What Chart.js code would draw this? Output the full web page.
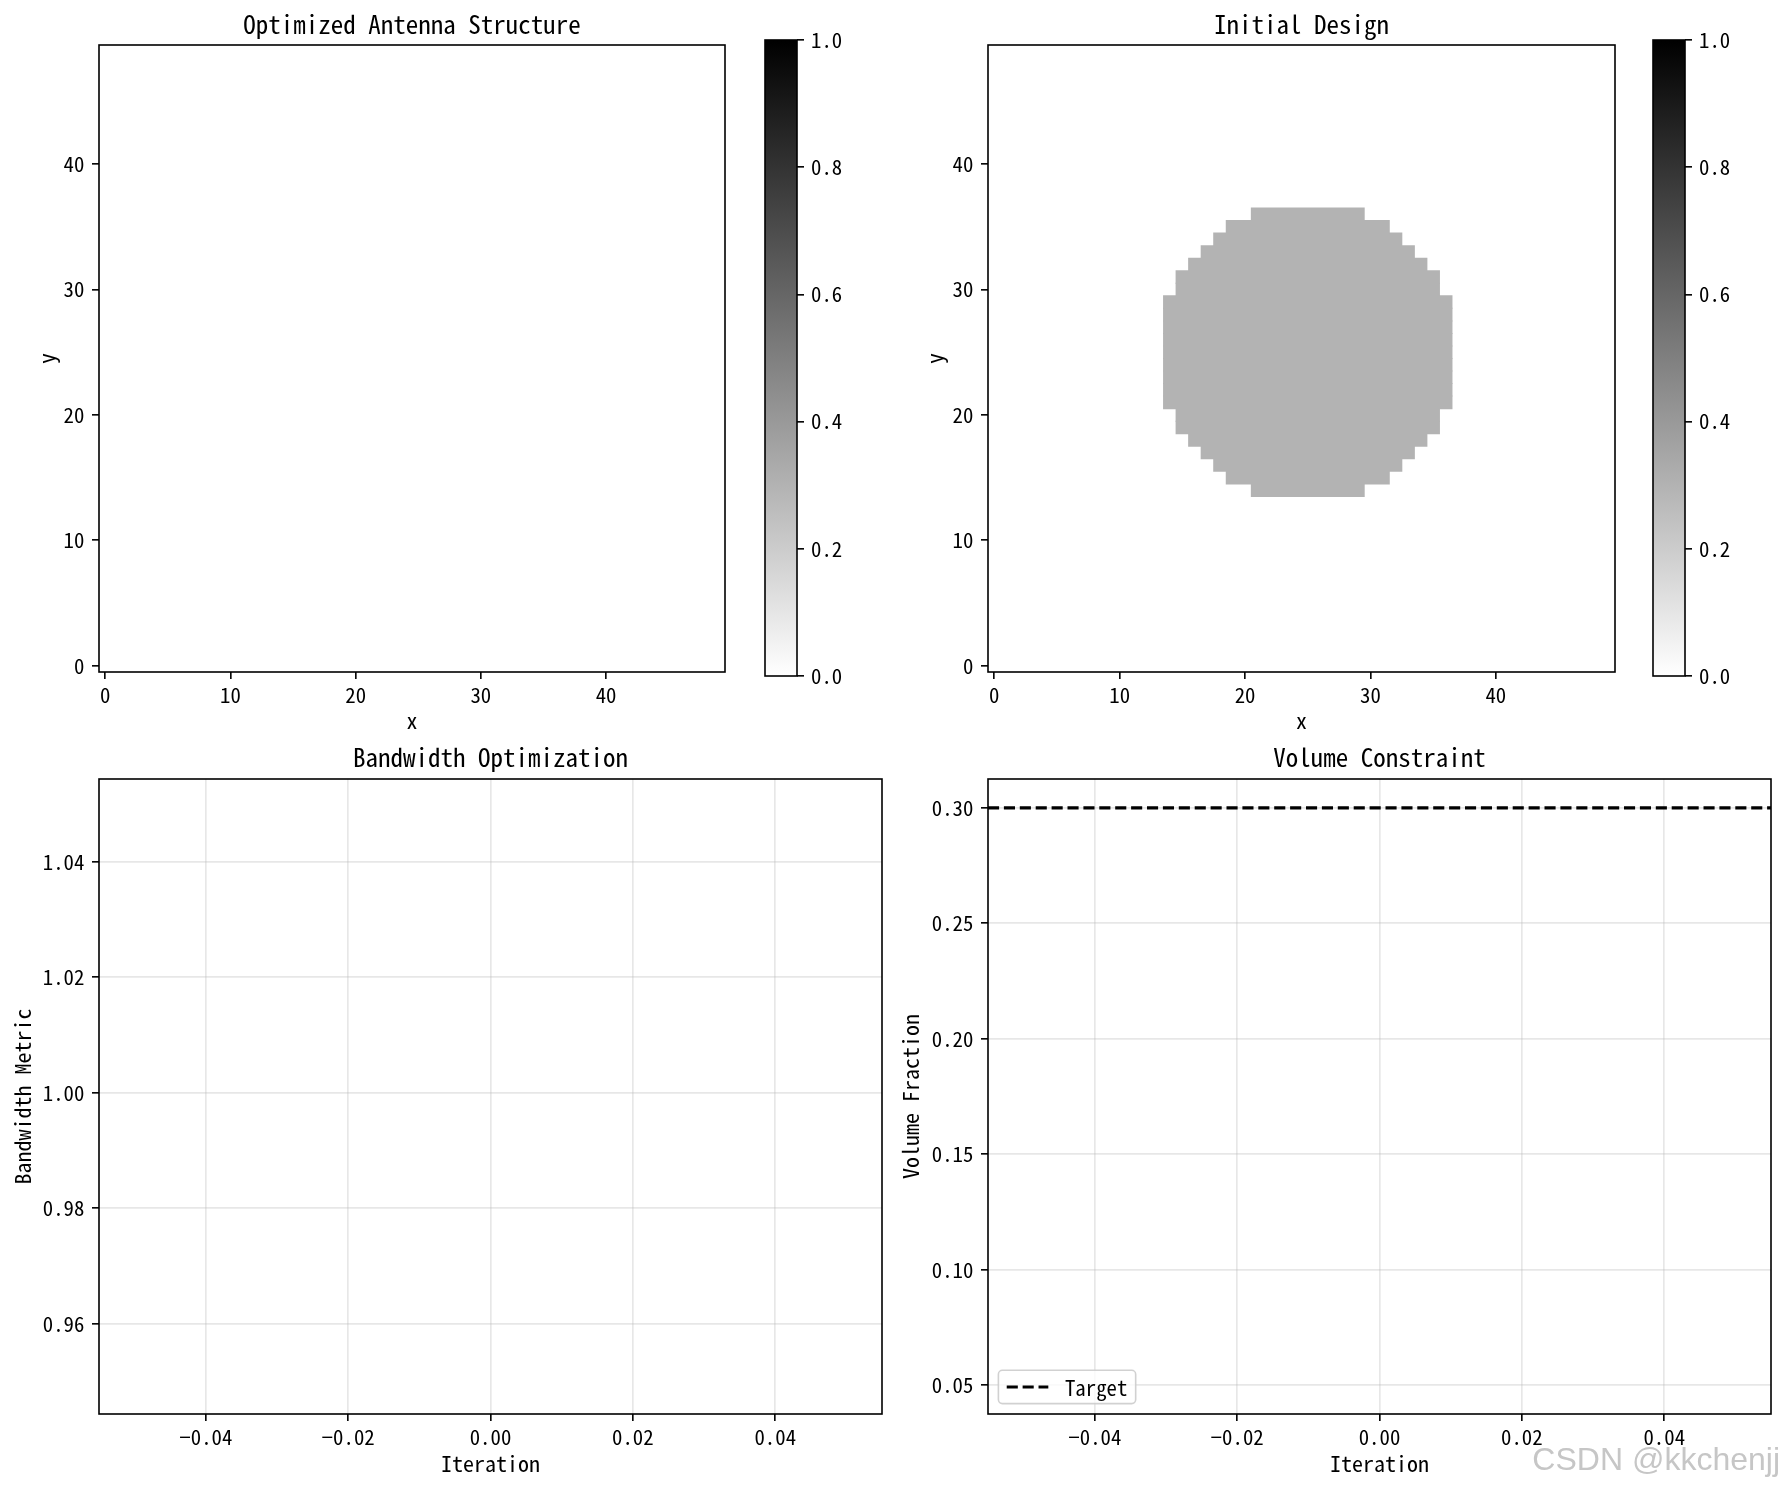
<!DOCTYPE html>
<html>
<head>
<meta charset="utf-8">
<script src="https://cdn.jsdelivr.net/npm/chart.js@4.4.1/dist/chart.umd.min.js"></script>
<style>
  html, body { margin: 0; padding: 0; background: #ffffff; }
  #wrap { position: relative; width: 1786px; height: 1490px; overflow: hidden; background: #ffffff; }
  #wrap canvas { position: absolute; left: 0; top: 0; }
  #wm { position: absolute; right: 6px; top: 1443px; font-family: "Liberation Sans", Arial, sans-serif;
        font-size: 32px; line-height: 32px; color: #c6c6c6; white-space: nowrap; }
</style>
</head>
<body>
<div id="wrap">
  <canvas id="cOpt" width="1786" height="1490"></canvas>
  <canvas id="cbOpt" width="1786" height="1490"></canvas>
  <canvas id="cInit" width="1786" height="1490"></canvas>
  <canvas id="cbInit" width="1786" height="1490"></canvas>
  <canvas id="cBand" width="1786" height="1490"></canvas>
  <canvas id="cVol" width="1786" height="1490"></canvas>
  <div id="wm">CSDN @kkchenjj</div>
</div>
<script>
// ---------------- data ----------------
const heatRange = [-0.5, 49.5];
const heatTicks = [0, 10, 20, 30, 40];
const heatTickLabels = ['0', '10', '20', '30', '40'];

// cells with non-zero density, as row spans: [row, firstColumn, lastColumn]
const optimizedSpans = [];
const optimizedDensity = 0;
const initialSpans = [
  [14, 21, 29], [15, 19, 31], [16, 18, 32], [17, 17, 33], [18, 16, 34],
  [19, 15, 35], [20, 15, 35], [21, 14, 36], [22, 14, 36], [23, 14, 36],
  [24, 14, 36], [25, 14, 36], [26, 14, 36], [27, 14, 36], [28, 14, 36],
  [29, 14, 36], [30, 15, 35], [31, 15, 35], [32, 16, 34], [33, 17, 33],
  [34, 18, 32], [35, 19, 31], [36, 21, 29]
];
const initialDensity = 0.3;

const colorbarRange = [0, 1];
const colorbarTicks = [0, 0.2, 0.4, 0.6, 0.8, 1.0];
const colorbarTickLabels = ['0.0', '0.2', '0.4', '0.6', '0.8', '1.0'];

const iterations = [0];
const bandwidth = [0.9993];
const volume = [0.05];
const targetVolume = 0.3;

const iterRange = [-0.055, 0.055];
const iterTicks = [-0.04, -0.02, 0, 0.02, 0.04];
const iterTickLabels = ['\u22120.04', '\u22120.02', '0.00', '0.02', '0.04'];
const bandwidthRange = [0.9444, 1.0543];
const bandwidthTicks = [0.96, 0.98, 1.00, 1.02, 1.04];
const bandwidthTickLabels = ['0.96', '0.98', '1.00', '1.02', '1.04'];
const volumeRange = [0.0375, 0.3125];
const volumeTicks = [0.05, 0.10, 0.15, 0.20, 0.25, 0.30];
const volumeTickLabels = ['0.05', '0.10', '0.15', '0.20', '0.25', '0.30'];

// ---------------- style ----------------
const FAMILY = "'Noto Sans Mono CJK SC', 'Noto Sans CJK SC', 'DejaVu Sans', sans-serif";
const W = 1786, H = 1490;
const TICK_FS = 20.8, LABEL_FS = 22, TITLE_FS = 25;
Chart.defaults.font.family = FAMILY;
Chart.defaults.color = '#000';

function grayR(v) {
  const g = Math.round(255 * (1 - v));
  return 'rgb(' + g + ',' + g + ',' + g + ')';
}

const framePlugin = {
  id: 'frame',
  afterDraw(chart) {
    const a = chart.chartArea, c = chart.ctx;
    c.save();
    c.strokeStyle = '#000';
    c.lineWidth = 1.6;
    c.strokeRect(a.left, a.top, a.right - a.left, a.bottom - a.top);
    c.restore();
  }
};

const cornerLegend = {
  id: 'cornerLegend',
  afterDraw(chart) {
    const o = chart.options.plugins.cornerLegend;
    if (!o || !o.display) return;
    const items = chart.data.datasets.filter(d => d.showInLegend);
    if (!items.length) return;
    const c = chart.ctx, a = chart.chartArea, fs = TICK_FS;
    c.save();
    c.font = fs + 'px ' + FAMILY;
    const textW = Math.max.apply(null, items.map(d => c.measureText(d.label).width));
    const pad = 0.4 * fs, handle = 2 * fs, gap = 0.8 * fs, rowH = 1.6 * fs;
    const boxW = pad + handle + gap + textW + pad;
    const boxH = rowH * items.length;
    const x0 = a.left + 0.5 * fs, y0 = a.bottom - 0.5 * fs - boxH;
    c.beginPath();
    if (c.roundRect) c.roundRect(x0, y0, boxW, boxH, 4); else c.rect(x0, y0, boxW, boxH);
    c.fillStyle = 'rgba(255,255,255,0.8)';
    c.fill();
    c.strokeStyle = 'rgba(204,204,204,0.9)';
    c.lineWidth = 1.6;
    c.stroke();
    items.forEach((d, i) => {
      const yc = y0 + rowH * (i + 0.5);
      c.beginPath();
      c.setLineDash(d.borderDash || []);
      c.lineWidth = d.borderWidth;
      c.strokeStyle = d.borderColor;
      c.moveTo(x0 + pad, yc);
      c.lineTo(x0 + pad + handle, yc);
      c.stroke();
      c.setLineDash([]);
      c.fillStyle = '#000';
      c.textBaseline = 'middle';
      c.textAlign = 'left';
      c.fillText(d.label, x0 + pad + handle + gap, yc + 1);
    });
    c.restore();
  }
};

function fixedTicks(values, labels, pad) {
  return {
    afterBuildTicks: s => { s.ticks = values.map(v => ({ value: v })); },
    ticks: {
      autoSkip: false, maxRotation: 0, minRotation: 0, padding: pad,
      font: { size: TICK_FS }, color: '#000',
      callback: (v, i) => labels[i]
    }
  };
}

function gridStyle(onArea) {
  return {
    display: true, drawOnChartArea: onArea, offset: false,
    color: 'rgba(176,176,176,0.3)', lineWidth: 1.67,
    drawTicks: true, tickLength: 7, tickColor: '#000', tickWidth: 1.6
  };
}

const baseOptions = {
  responsive: false, animation: false, events: [], devicePixelRatio: 1
};

// ---------------- heatmaps ----------------
function heatmap(id, spans, density, titleText, box) {
  const xT = fixedTicks(heatTicks, heatTickLabels, 3.4);
  const yT = fixedTicks(heatTicks, heatTickLabels, 7.6);
  return new Chart(document.getElementById(id), {
    type: 'bar',
    data: {
      datasets: [{
        label: 'density',
        data: spans.map(s => ({ y: s[0], x: [s[1] - 0.5, s[2] + 0.5] })),
        backgroundColor: grayR(density),
        borderWidth: 0,
        inflateAmount: 0.5,
        barPercentage: 1,
        categoryPercentage: 1
      }]
    },
    options: Object.assign({}, baseOptions, {
      indexAxis: 'y',
      layout: { padding: { left: box.padLeft, top: 0, right: W - box.right, bottom: H - box.bottom - 70 } },
      plugins: {
        legend: { display: false }, tooltip: { enabled: false },
        title: { display: true, text: titleText, fullSize: false, color: '#000',
                 font: { size: TITLE_FS, weight: 'normal' }, padding: { top: 9, bottom: 6 } }
      },
      scales: {
        x: Object.assign({
          type: 'linear', min: heatRange[0], max: heatRange[1], bounds: 'data', offset: false,
          grid: gridStyle(false), border: { display: false },
          afterFit: s => { s.height = 70; },
          title: { display: true, text: 'x', color: '#000', font: { size: LABEL_FS }, padding: { top: 0, bottom: 8 } }
        }, xT),
        y: Object.assign({
          type: 'linear', min: heatRange[0], max: heatRange[1], bounds: 'data', offset: false,
          grid: gridStyle(false), border: { display: false },
          afterFit: s => { s.width = box.yWidth; },
          title: { display: true, text: 'y', color: '#000', font: { size: LABEL_FS }, padding: { top: box.yTitlePad, bottom: 0 } }
        }, yT)
      }
    }),
    plugins: [framePlugin]
  });
}

function colorbar(id, box) {
  const yT = fixedTicks(colorbarTicks, colorbarTickLabels, 7);
  return new Chart(document.getElementById(id), {
    type: 'bar',
    data: {
      labels: [''],
      datasets: [{
        label: 'colorbar',
        data: [colorbarRange.slice()],
        backgroundColor: ctx => {
          const ch = ctx.chart, ys = ch.scales.y;
          if (!ys || !ch.chartArea) return grayR(0.5);
          const g = ch.ctx.createLinearGradient(0, ys.getPixelForValue(colorbarRange[0]), 0, ys.getPixelForValue(colorbarRange[1]));
          g.addColorStop(0, grayR(colorbarRange[0]));
          g.addColorStop(1, grayR(colorbarRange[1]));
          return g;
        },
        borderWidth: 0, inflateAmount: 0, barPercentage: 1, categoryPercentage: 1
      }]
    },
    options: Object.assign({}, baseOptions, {
      layout: { padding: { left: box.left, top: box.top, right: W - box.right - 80, bottom: H - box.bottom } },
      plugins: { legend: { display: false }, tooltip: { enabled: false }, title: { display: false } },
      scales: {
        x: { display: false },
        y: Object.assign({
          position: 'right', min: colorbarRange[0], max: colorbarRange[1], bounds: 'data',
          grid: gridStyle(false), border: { display: false },
          afterFit: s => { s.width = 80; }
        }, yT)
      }
    }),
    plugins: [framePlugin]
  });
}

heatmap('cOpt', optimizedSpans, optimizedDensity, 'Optimized Antenna Structure',
        { padLeft: 0, yWidth: 99, yTitlePad: 33.8, right: 725, bottom: 672 });
colorbar('cbOpt', { left: 765, right: 797, top: 40, bottom: 676 });
heatmap('cInit', initialSpans, initialDensity, 'Initial Design',
        { padLeft: 893, yWidth: 95, yTitlePad: 28.3, right: 1615, bottom: 672 });
colorbar('cbInit', { left: 1653, right: 1685, top: 40, bottom: 676 });

// ---------------- line charts ----------------
function lineChart(id, datasets, titleText, yLabel, yRange, yTicks, yLabels, box, legend) {
  const xT = fixedTicks(iterTicks, iterTickLabels, 3.4);
  const yT = fixedTicks(yTicks, yLabels, 7.6);
  return new Chart(document.getElementById(id), {
    type: 'line',
    data: { datasets: datasets },
    options: Object.assign({}, baseOptions, {
      layout: { padding: { left: box.padLeft, top: 700, right: W - box.right, bottom: H - box.bottom - 70 } },
      plugins: {
        legend: { display: false }, tooltip: { enabled: false },
        title: { display: true, text: titleText, fullSize: false, color: '#000',
                 font: { size: TITLE_FS, weight: 'normal' }, padding: { top: 42, bottom: 7 } },
        cornerLegend: { display: legend }
      },
      scales: {
        x: Object.assign({
          type: 'linear', min: iterRange[0], max: iterRange[1], bounds: 'data',
          grid: gridStyle(true), border: { display: false },
          afterFit: s => { s.height = 70; },
          title: { display: true, text: 'Iteration', color: '#000', font: { size: LABEL_FS }, padding: { top: 0, bottom: 7.1 } }
        }, xT),
        y: Object.assign({
          type: 'linear', min: yRange[0], max: yRange[1], bounds: 'data',
          grid: gridStyle(true), border: { display: false },
          afterFit: s => { s.width = box.yWidth; },
          title: { display: true, text: yLabel, color: '#000', font: { size: LABEL_FS }, padding: { top: box.yTitlePad, bottom: 0 } }
        }, yT)
      }
    }),
    plugins: [framePlugin, cornerLegend]
  });
}

lineChart('cBand', [{
  label: 'Bandwidth', data: iterations.map((x, i) => ({ x: x, y: bandwidth[i] })),
  borderColor: '#1f77b4', borderWidth: 3.1, pointRadius: 0, showInLegend: false
}], 'Bandwidth Optimization', 'Bandwidth Metric', bandwidthRange, bandwidthTicks, bandwidthTickLabels,
{ padLeft: 0, yWidth: 99, yTitlePad: 9.8, right: 882, bottom: 1414 }, false);

lineChart('cVol', [{
  label: 'Volume', data: iterations.map((x, i) => ({ x: x, y: volume[i] })),
  borderColor: '#ff0000', borderWidth: 3.1, pointRadius: 0, showInLegend: false
}, {
  label: 'Target', data: iterRange.map(x => ({ x: x, y: targetVolume })),
  borderColor: '#000', borderWidth: 3.1, borderDash: [11.1, 4.8], pointRadius: 0, showInLegend: true
}], 'Volume Constraint', 'Volume Fraction', volumeRange, volumeTicks, volumeTickLabels,
{ padLeft: 893, yWidth: 95, yTitlePad: 4.8, right: 1771, bottom: 1414 }, true);
</script>
</body>
</html>
